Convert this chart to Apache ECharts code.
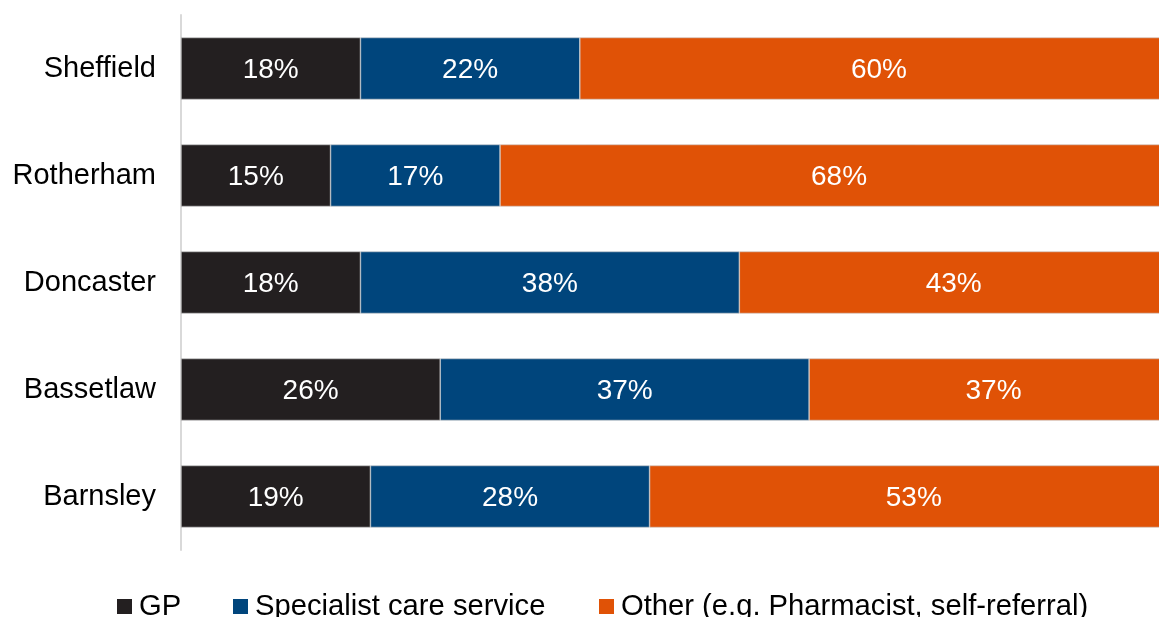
<!DOCTYPE html>
<html>
<head>
<meta charset="utf-8">
<script src="https://cdn.jsdelivr.net/npm/echarts@6/dist/echarts.min.js"></script>
<style>
  html, body { margin: 0; padding: 0; background: #ffffff; }
  #chart { width: 1159px; height: 617px; }
</style>
</head>
<body>
<div id="chart"></div>
<script>
// Source of referral by area (percent of referrals)
const areas = ['Sheffield', 'Rotherham', 'Doncaster', 'Bassetlaw', 'Barnsley'];
const gp = [18, 15, 18, 26, 19];
const specialist = [22, 17, 38, 37, 28];
const other = [60, 68, 43, 37, 53];

const seriesNames = ['GP', 'Specialist care service', 'Other (e.g. Pharmacist, self-referral)'];
const seriesColors = ['#231f20', '#00457c', '#e05206'];

const FONT = 'Liberation Sans, Arial, sans-serif';

const chart = echarts.init(document.getElementById('chart'), null, { renderer: 'canvas' });

function barSeries(i, values) {
  return {
    name: seriesNames[i],
    type: 'bar',
    stack: 'total',
    data: values,
    barWidth: 62,
    itemStyle: { color: seriesColors[i], borderColor: '#c8c8c8', borderWidth: 0.6 },
    label: {
      show: true,
      position: 'inside',
      formatter: '{c}%',
      color: '#ffffff',
      fontFamily: FONT,
      fontSize: 28,
      offset: [0, 2]
    }
  };
}

function legendAt(i, left) {
  return {
    data: [seriesNames[i]],
    left: left,
    top: 592,
    orient: 'horizontal',
    icon: 'rect',
    itemWidth: 15,
    itemHeight: 15,
    itemGap: 0,
    padding: 0,
    itemStyle: { borderWidth: 0 },
    textStyle: { fontFamily: FONT, fontSize: 29.2, color: '#000000', padding: [0, 0, 0, 2] },
    selectedMode: false
  };
}

chart.setOption({
  animation: false,
  backgroundColor: '#ffffff',
  grid: { left: 181, top: 15, width: 997, height: 535, containLabel: false, outerBoundsMode: 'none' },
  xAxis: {
    type: 'value',
    min: 0,
    max: 100,
    show: false
  },
  yAxis: {
    type: 'category',
    data: areas,
    inverse: true,
    axisLine: { show: true, lineStyle: { color: '#d9d9d9', width: 2 } },
    axisTick: { show: false },
    axisLabel: { fontFamily: FONT, fontSize: 29, color: '#000000', margin: 25, padding: [4, 0, 0, 0] }
  },
  legend: [legendAt(0, 117), legendAt(1, 233), legendAt(2, 599)],
  series: [barSeries(0, gp), barSeries(1, specialist), barSeries(2, other)]
});
</script>
</body>
</html>
